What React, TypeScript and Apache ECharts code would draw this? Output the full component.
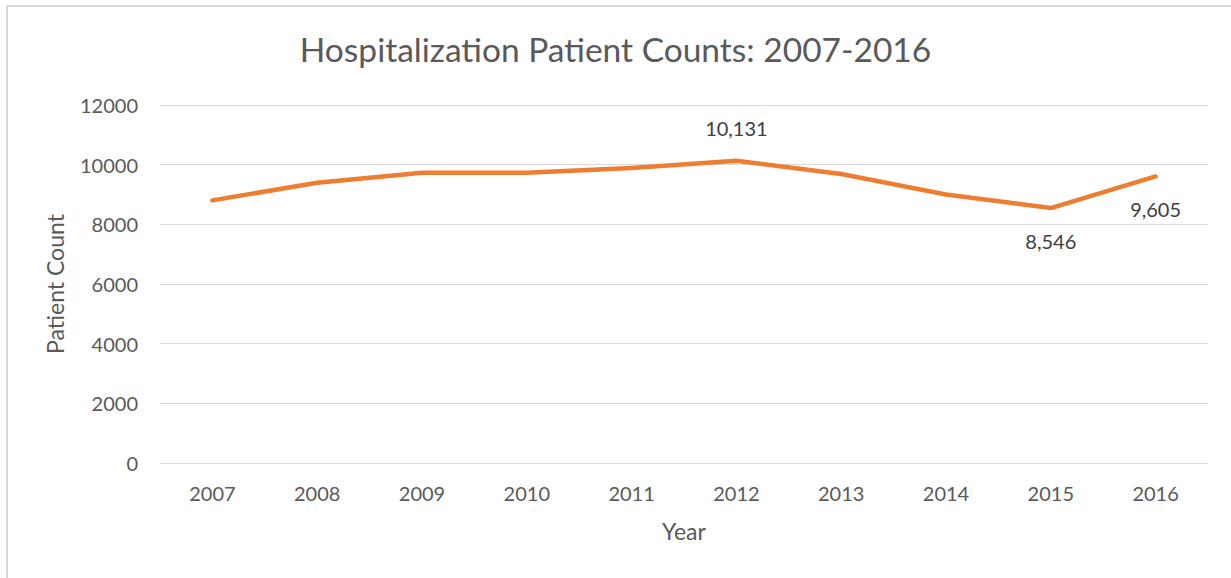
import React, { useEffect, useRef } from "react";
import * as echarts from "echarts";

const years = ["2007", "2008", "2009", "2010", "2011", "2012", "2013", "2014", "2015", "2016"];
const patientCounts = [8804, 9395, 9732, 9725, 9890, 10131, 9688, 9000, 8546, 9605];
const labeledPoints: Record<string, string> = { "2012": "top", "2015": "bottom", "2016": "bottom" };
const yTicks = [0, 2000, 4000, 6000, 8000, 10000, 12000];

const FONT = "Lato, 'Open Sans', sans-serif";

export default function App() {
  const ref = useRef<HTMLDivElement>(null);
  useEffect(() => {
    document.body.style.margin = "0";
    if (!ref.current) return;
    const chart = echarts.init(ref.current, null, { renderer: "svg" });
    chart.setOption({
      animation: false,
      backgroundColor: "#ffffff",
      title: {
        text: "Hospitalization Patient Counts: 2007-2016",
        left: "center",
        top: 27,
        textStyle: { fontFamily: FONT, fontSize: 33.5, fontWeight: "normal", color: "#595959" },
      },
      graphic: [
        {
          type: "polyline",
          shape: { points: [[7, 578], [7, 6], [1231, 6]] },
          style: { stroke: "#d9d9d9", lineWidth: 2, fill: "none" },
          silent: true,
        },
      ],
      grid: { left: 160, right: 23, top: 105, bottom: 115, containLabel: false },
      xAxis: {
        type: "category",
        data: years,
        boundaryGap: true,
        name: "Year",
        nameLocation: "middle",
        nameGap: 56,
        nameTextStyle: { fontFamily: FONT, fontSize: 23, color: "#595959" },
        axisLine: { show: true, lineStyle: { color: "#d9d9d9", width: 1 } },
        axisTick: { show: false },
        axisLabel: { fontFamily: FONT, fontSize: 20, color: "#595959", margin: 20 },
      },
      yAxis: {
        type: "value",
        min: 0,
        max: 12000,
        interval: 2000,
        name: "Patient Count",
        nameLocation: "middle",
        nameGap: 94,
        nameRotate: 90,
        nameTextStyle: { fontFamily: FONT, fontSize: 23, color: "#595959" },
        axisLine: { show: false },
        axisTick: { show: false },
        splitLine: { lineStyle: { color: "#d9d9d9", width: 1 } },
        axisLabel: {
          fontFamily: FONT,
          fontSize: 20,
          color: "#595959",
          margin: 22,
          formatter: (v: number) => (yTicks.includes(v) ? String(v) : ""),
        },
      },
      series: [
        {
          type: "line",
          data: patientCounts.map((v, i) => {
            const pos = labeledPoints[years[i]];
            return { value: v, label: { position: pos || "top" } };
          }),
          symbol: "circle",
          symbolSize: 2,
          showSymbol: true,
          label: {
            show: true,
            distance: 22,
            formatter: (p: any) =>
              labeledPoints[years[p.dataIndex]] ? Number(p.value).toLocaleString("en-US") : "",
            fontFamily: FONT,
            fontSize: 20,
            color: "#404040",
          },
          lineStyle: { color: "#ED7D31", width: 4.5, cap: "round", join: "round" },
          itemStyle: { color: "#ED7D31" },
        },
      ],
    });
    return () => chart.dispose();
  }, []);
  return <div ref={ref} style={{ width: 1231, height: 578 }} />;
}
